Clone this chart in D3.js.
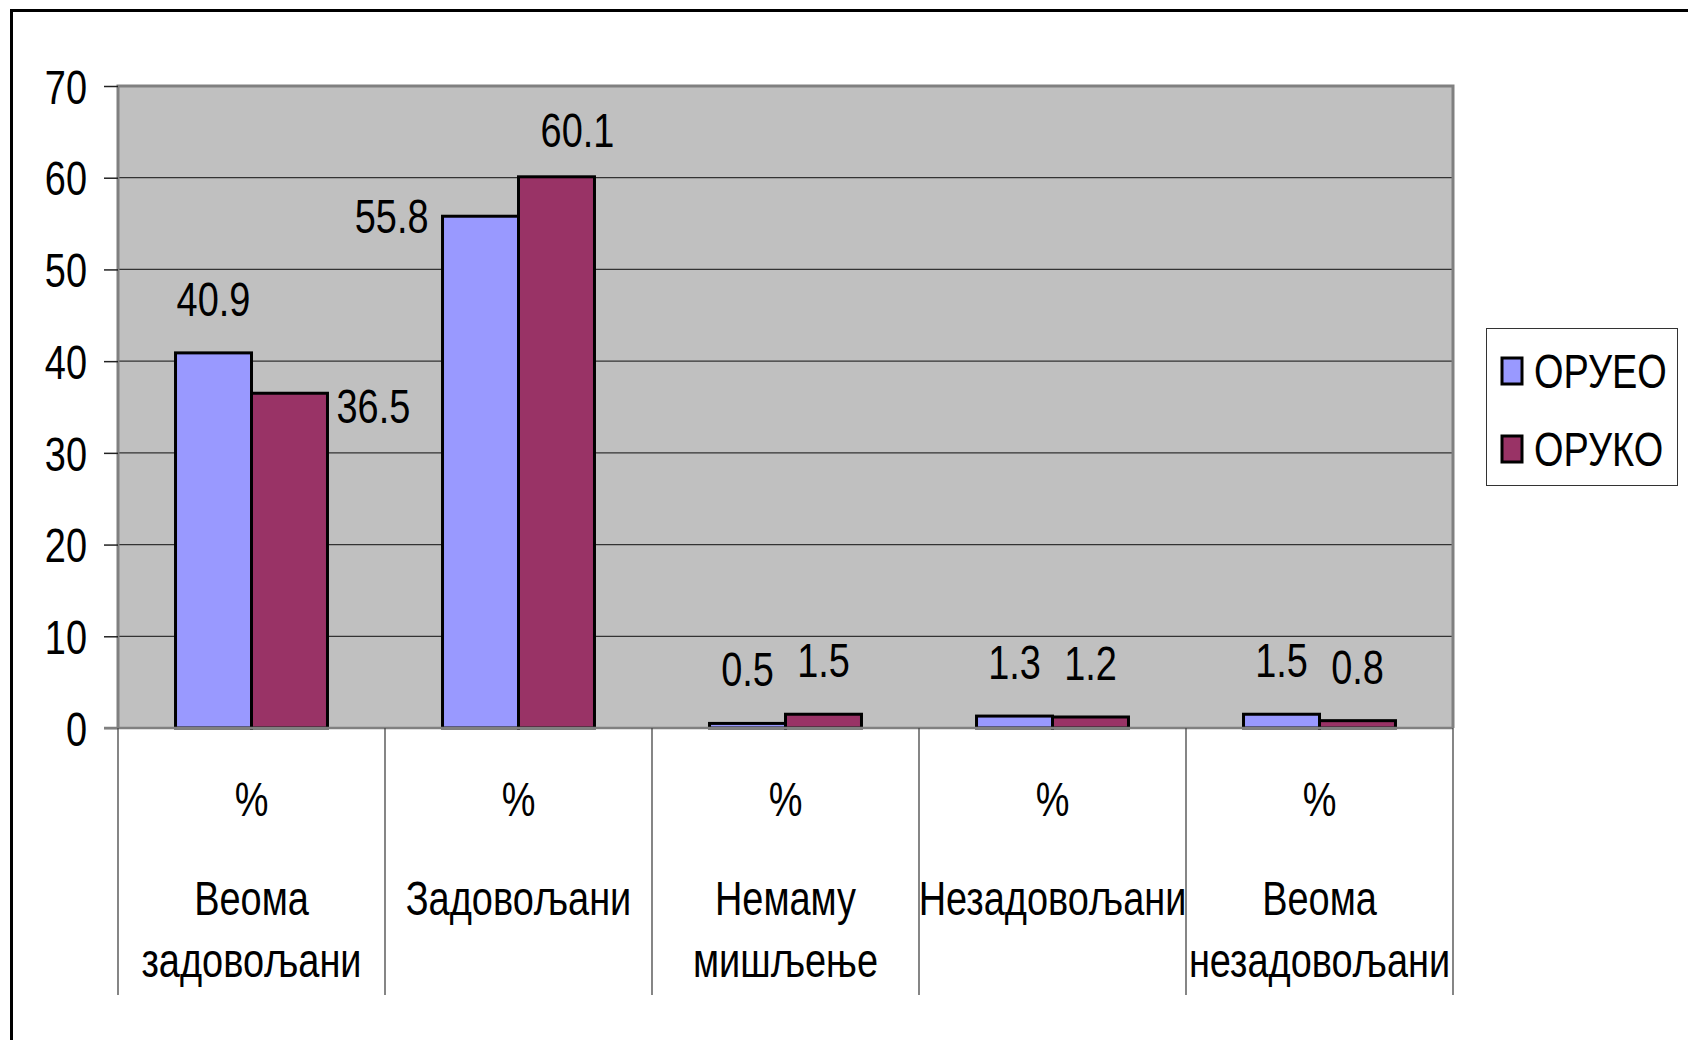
<!DOCTYPE html>
<html>
<head>
<meta charset="utf-8">
<script src="https://cdn.jsdelivr.net/npm/d3@7"></script>
<style>
  html, body { margin: 0; padding: 0; background: #fff; }
  svg { display: block; }
  text { font-family: "Liberation Sans", Arial, sans-serif; fill: #000; }
</style>
</head>
<body>
<svg id="chart" width="1688" height="1040"></svg>
<script>
// ---- data ----
const categories = ["Веома задовољани", "Задовољани", "Немаму мишљење", "Незадовољани", "Веома незадовољани"];
const categoryLines = [["Веома", "задовољани"], ["Задовољани"], ["Немаму", "мишљење"], ["Незадовољани"], ["Веома", "незадовољани"]];
const unitLabel = "%";
const seriesNames = ["ОРУЕО", "ОРУКО"];
const orueo = [40.9, 55.8, 0.5, 1.3, 1.5];
const oruko = [36.5, 60.1, 1.5, 1.2, 0.8];
const yTicks = [0, 10, 20, 30, 40, 50, 60, 70];
const seriesColors = ["#9999FF", "#993366"];

// ---- layout ----
const W = 1688, H = 1040;
const plot = { left: 118, right: 1453, top: 86, bottom: 728 };
const FS = 48, SX = 0.79;

const svg = d3.select("#chart");
svg.append("rect").attr("width", W).attr("height", H).attr("fill", "#fff");
// outer frame (extends past the window on right/bottom)
svg.append("rect").attr("x", 11.5).attr("y", 10.5).attr("width", 1800).attr("height", 1200)
  .attr("fill", "none").attr("stroke", "#000").attr("stroke-width", 3);

const x0 = d3.scaleBand().domain(categories).range([plot.left, plot.right]).padding(0);
const x1 = d3.scaleBand().domain(seriesNames).range([0, x0.bandwidth()]).paddingInner(0).paddingOuter(0.757);
const y = d3.scaleLinear().domain([0, 70]).range([plot.bottom, plot.top]);

const rows = categories.map((c, i) => ({ cat: c, i, vals: [
  { s: seriesNames[0], v: orueo[i], k: 0 },
  { s: seriesNames[1], v: oruko[i], k: 1 }
]}));

// plot background
svg.append("rect").attr("x", plot.left).attr("y", plot.top)
  .attr("width", plot.right - plot.left).attr("height", plot.bottom - plot.top)
  .attr("fill", "#C0C0C0");

// gridlines
svg.append("g").selectAll("line").data(yTicks.filter(t => t > 0 && t < 70)).join("line")
  .attr("x1", plot.left).attr("x2", plot.right)
  .attr("y1", d => y(d)).attr("y2", d => y(d))
  .attr("stroke", "#333").attr("stroke-width", 1.3);

// plot border (top, left, right) gray
svg.append("path")
  .attr("d", `M${plot.left},${plot.bottom} V${plot.top} H${plot.right} V${plot.bottom}`)
  .attr("fill", "none").attr("stroke", "#808080").attr("stroke-width", 3);

function txt(g, x, yy, s, anchor) {
  return g.append("text")
    .attr("transform", `translate(${x},${yy}) scale(${SX},1)`)
    .attr("text-anchor", anchor || "middle")
    .attr("font-size", FS)
    .text(s);
}

// y axis
const yAxis = svg.append("g").attr("transform", `translate(${plot.left},0)`)
  .call(d3.axisLeft(y).tickValues(yTicks).tickSize(14).tickFormat(d3.format("d")));
yAxis.select(".domain").remove();
yAxis.selectAll(".tick line").attr("stroke", "#222").attr("stroke-width", 1.5);
yAxis.selectAll(".tick text")
  .attr("x", null).attr("dy", null)
  .attr("transform", `translate(-31,${0.36 * FS}) scale(${SX},1)`)
  .attr("text-anchor", "end")
  .attr("font-size", FS)
  .attr("font-family", "'Liberation Sans', Arial, sans-serif")
  .attr("fill", "#000");

// bars
const gBars = svg.append("g");
rows.forEach(r => {
  gBars.selectAll(null).data(r.vals).join("rect")
    .attr("x", d => x0(r.cat) + x1(d.s))
    .attr("y", d => y(d.v))
    .attr("width", x1.bandwidth())
    .attr("height", d => y(0) - y(d.v))
    .attr("fill", d => seriesColors[d.k])
    .attr("stroke", "#000").attr("stroke-width", 3);
});

// zero line
svg.append("line").attr("x1", plot.left - 14).attr("x2", plot.right)
  .attr("y1", y(0)).attr("y2", y(0))
  .attr("stroke", "#808080").attr("stroke-width", 2.5);

// category separators
const seps = categories.map(c => x0(c)).concat([plot.right]);
svg.append("g").selectAll("line").data(seps).join("line")
  .attr("x1", d => d).attr("x2", d => d)
  .attr("y1", y(0)).attr("y2", 995)
  .attr("stroke", "#444").attr("stroke-width", 1.3);

// category labels
const gCat = svg.append("g");
categories.forEach((c, i) => {
  const cx = x0(c) + x0.bandwidth() / 2;
  txt(gCat, cx, 816, unitLabel);
  categoryLines[i].forEach((ln, j) => txt(gCat, cx, 915 + j * 62, ln));
});

// data labels: default centred above the bar; a few moved as in the original
const labelPlace = {
  "0-1": { anchor: "start", dx: 47, dy: 30 },
  "1-0": { anchor: "end", dx: -52, dy: 17 },
  "1-1": { anchor: "middle", dx: 21, dy: -30 }
};
const gLab = svg.append("g");
rows.forEach(r => {
  r.vals.forEach(d => {
    const bx = x0(r.cat) + x1(d.s) + x1.bandwidth() / 2;
    const top = y(d.v);
    const p = labelPlace[r.i + "-" + d.k] || { anchor: "middle", dx: 0, dy: -37 };
    txt(gLab, bx + p.dx, top + p.dy, String(d.v), p.anchor);
  });
});

// legend
const lg = svg.append("g");
lg.append("rect").attr("x", 1486.5).attr("y", 328.5).attr("width", 191).attr("height", 157)
  .attr("fill", "#fff").attr("stroke", "#333").attr("stroke-width", 1);
seriesNames.forEach((s, k) => {
  const cy = 371 + k * 78;
  lg.append("rect").attr("x", 1502).attr("y", cy - 13).attr("width", 20).attr("height", 26)
    .attr("fill", seriesColors[k]).attr("stroke", "#000").attr("stroke-width", 3);
  txt(lg, 1534, cy + 17, s, "start");
});
</script>
</body>
</html>
